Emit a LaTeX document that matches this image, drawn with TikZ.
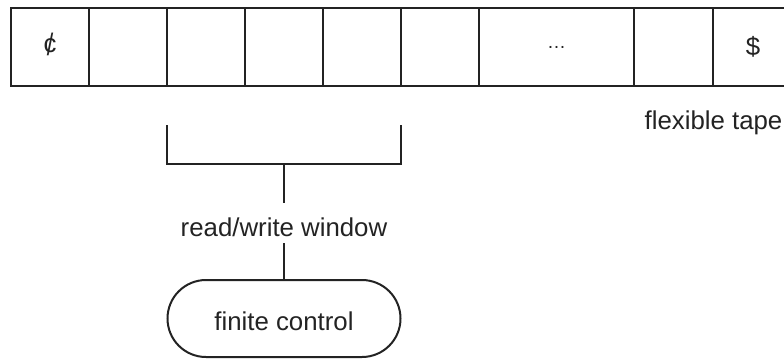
\documentclass[tikz,border=0pt]{standalone}
\usepackage{fontspec}
\setmainfont{Liberation Sans}
\usetikzlibrary{shapes.misc}
\definecolor{ink}{HTML}{232323}
\newcommand{\labelfont}{\fontsize{25.9pt}{31pt}\selectfont}
\newcommand{\centsign}{\ooalign{c\cr\hidewidth\raisebox{-0.12em}{\scalebox{0.9}[1.2]{/}}\hidewidth}}
\begin{document}
\begin{tikzpicture}[x=1bp,y=-1bp,
  cell/.style={draw=ink, line width=2.6bp, rectangle, minimum height=78bp,
    inner sep=0pt, outer sep=0pt, anchor=north west, text=ink, font=\labelfont},
  bracket/.style={draw=ink, line width=2.2bp},
  label/.style={text=ink, font=\labelfont, inner sep=0pt},
  control/.style={draw=ink, line width=2bp, rounded rectangle, minimum width=233bp,
    minimum height=77bp, inner sep=0pt, text=ink, font=\labelfont,
    text height=24bp, text depth=0pt}]
  \useasboundingbox (0,0) rectangle (784,358);
  \clip (0,0) rectangle (784,358);

  % the tape cells
  \node[cell, minimum width=78bp]  (c1) at (11,8)  {\centsign};
  \node[cell, minimum width=78bp]  (c2) at (89,8)  {};
  \node[cell, minimum width=78bp]  (c3) at (167,8) {};
  \node[cell, minimum width=78bp]  (c4) at (245,8) {};
  \node[cell, minimum width=78bp]  (c5) at (323,8) {};
  \node[cell, minimum width=78bp]  (c6) at (401,8) {};
  \node[cell, minimum width=155bp, font=\fontsize{19pt}{23pt}\selectfont] (c7) at (479,8) {\dots};
  \node[cell, minimum width=79bp]  (c8) at (634,8) {};
  \node[cell, minimum width=80bp]  (c9) at (713,8) {\$};

  \node[label] (tape) at (713.5,123) {flexible tape};

  % read/write window bracket under cells 3 to 5
  \coordinate (bl)  at (167,125);
  \coordinate (blc) at (167,164);
  \coordinate (brc) at (401,164);
  \coordinate (br)  at (401,125);
  \coordinate (bm)  at (284,164);
  \draw[bracket] (bl) -- (blc) -- (brc) -- (br);

  \node[label, anchor=base, text height=33bp, text depth=7bp] (rw) at (284,236) {read/write window};
  \node[control] (fc) at (284,318.5) {finite control};

  \draw[bracket] (bm) -- (rw.north);
  \draw[bracket] (rw.south) -- (fc.north);
\end{tikzpicture}
\end{document}
